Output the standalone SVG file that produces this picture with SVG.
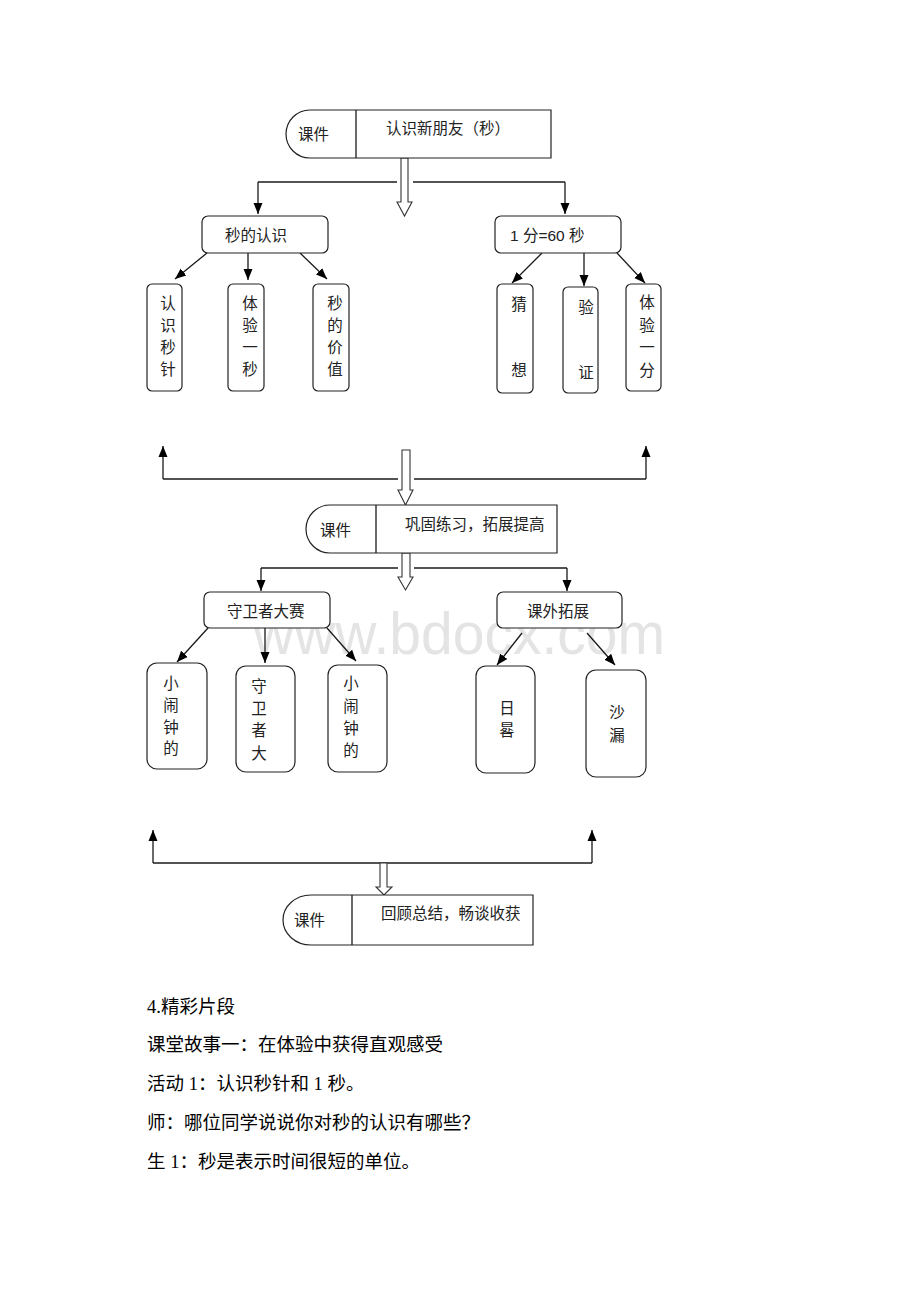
<svg xmlns="http://www.w3.org/2000/svg" width="920" height="1302" viewBox="0 0 920 1302">
<style>
.ln{fill:none;stroke:#1a1a1a;stroke-width:1.3}
.ar{fill:none;stroke:#1a1a1a;stroke-width:1.3;marker-end:url(#ah)}
.hol{fill:#fff;stroke:#333;stroke-width:1.1}
.box{fill:#fff;stroke:#222;stroke-width:1.2}
.t{font-family:"Liberation Sans","Noto Sans CJK SC",sans-serif;font-size:15.5px;fill:#222;dominant-baseline:central}
.tc{text-anchor:middle}
.b{font-family:"Liberation Serif","Noto Sans CJK SC",serif;font-size:18.5px;fill:#000;dominant-baseline:central}
.wm{font-family:"Liberation Sans","Noto Sans",sans-serif;font-size:60px;fill:#e4e4e4}
</style>
<defs>
<marker id="ah" markerUnits="userSpaceOnUse" markerWidth="12" markerHeight="12" viewBox="0 0 12 12" refX="11" refY="6" orient="auto">
<path d="M0,1.5 L11,6 L0,10.5 Z" fill="#000"/>
</marker>
</defs>
<rect width="920" height="1302" fill="#fff"/>
<text class="wm" x="253" y="654" textLength="412" lengthAdjust="spacingAndGlyphs">www.bdocx.com</text>

<g id="connectors">
<polyline class="ln" points="397,182 258,182"/>
<polyline class="ln" points="413,182 565,182"/>
<line class="ar" x1="258" y1="182" x2="258" y2="214"/>
<line class="ar" x1="565" y1="182" x2="565" y2="214"/>
<polygon class="hol" points="401,158 408,158 408,202 412,202 404.5,216 397,202 401,202"/>
<line class="ar" x1="207" y1="253" x2="175" y2="279"/>
<line class="ar" x1="248" y1="253" x2="248" y2="280"/>
<line class="ar" x1="300" y1="253" x2="327" y2="279"/>
<line class="ar" x1="542" y1="253" x2="512" y2="283"/>
<line class="ar" x1="584" y1="253" x2="584" y2="286"/>
<line class="ar" x1="617" y1="253" x2="645" y2="283"/>
<line class="ln" x1="163" y1="479" x2="398" y2="479"/>
<line class="ln" x1="414" y1="479" x2="646" y2="479"/>
<line class="ar" x1="163" y1="479" x2="163" y2="446"/>
<line class="ar" x1="646" y1="479" x2="646" y2="446"/>
<polygon class="hol" points="402,450 410,450 410,490 413,490 405.5,505 398,490 402,490"/>
<line class="ln" x1="261" y1="568" x2="398" y2="568"/>
<line class="ln" x1="414" y1="568" x2="567" y2="568"/>
<line class="ar" x1="261" y1="568" x2="261" y2="591"/>
<line class="ar" x1="567" y1="568" x2="567" y2="591"/>
<polygon class="hol" points="402,553 410,553 410,577 413,577 405.5,590 398,577 402,577"/>
<line class="ar" x1="208" y1="628" x2="177" y2="662"/>
<line class="ar" x1="265" y1="628" x2="265" y2="663"/>
<line class="ar" x1="327" y1="628" x2="356" y2="661"/>
<line class="ar" x1="522" y1="633" x2="497" y2="665"/>
<line class="ar" x1="587" y1="633" x2="615" y2="665"/>
<line class="ln" x1="153" y1="863" x2="592" y2="863"/>
<line class="ar" x1="153" y1="863" x2="153" y2="830"/>
<line class="ar" x1="592" y1="863" x2="592" y2="830"/>
<polygon class="hol" points="380,863 387,863 387,887 392,887 384,895 376,887 380,887"/>
</g>

<g id="n-top">
<path class="box" d="M310,110 H551 V158 H310 A24,24 0 0 1 310,110 Z"/>
<line class="ln" x1="356" y1="110" x2="356" y2="158"/>
<text class="t" x="298" y="134">课件</text>
<text class="t" x="386" y="128">认识新朋友（秒）</text>
</g>

<g id="n-miao">
<rect class="box" x="202" y="216" width="126" height="37" rx="6"/>
<text class="t" x="225" y="235">秒的认识</text>
</g>
<g id="n-fen">
<rect class="box" x="495" y="216" width="126" height="37" rx="6"/>
<text class="t" x="510" y="235">1 分=60 秒</text>
</g>

<g id="l1">
<rect class="box" x="147" y="284" width="35" height="107" rx="5"/>
<text class="t tc" x="168" y="303">认</text><text class="t tc" x="168" y="325">识</text><text class="t tc" x="168" y="347">秒</text><text class="t tc" x="168" y="369">针</text>
</g>
<g id="l2">
<rect class="box" x="228" y="284" width="36" height="107" rx="5"/>
<text class="t tc" x="250" y="303">体</text><text class="t tc" x="250" y="325">验</text><text class="t tc" x="250" y="347">一</text><text class="t tc" x="250" y="369">秒</text>
</g>
<g id="l3">
<rect class="box" x="313" y="284" width="36" height="107" rx="5"/>
<text class="t tc" x="335" y="303">秒</text><text class="t tc" x="335" y="325">的</text><text class="t tc" x="335" y="347">价</text><text class="t tc" x="335" y="369">值</text>
</g>
<g id="l4">
<rect class="box" x="497" y="284" width="36" height="109" rx="5"/>
<text class="t tc" x="519" y="304">猜</text><text class="t tc" x="519" y="370">想</text>
</g>
<g id="l5">
<rect class="box" x="563" y="287" width="35" height="106" rx="5"/>
<text class="t tc" x="586" y="307">验</text><text class="t tc" x="586" y="372">证</text>
</g>
<g id="l6">
<rect class="box" x="626" y="284" width="35" height="107" rx="5"/>
<text class="t tc" x="647" y="302">体</text><text class="t tc" x="647" y="325">验</text><text class="t tc" x="647" y="347">一</text><text class="t tc" x="647" y="370">分</text>
</g>

<g id="n-mid">
<path class="box" d="M330,505 H557 V553 H330 A24,24 0 0 1 330,505 Z"/>
<line class="ln" x1="376" y1="505" x2="376" y2="553"/>
<text class="t" x="320" y="530">课件</text>
<text class="t" x="405" y="524">巩固练习，拓展提高</text>
</g>

<g id="n-shouwei">
<rect class="box" x="204" y="592" width="126" height="36" rx="6"/>
<text class="t" x="227" y="611">守卫者大赛</text>
</g>
<g id="n-kewai">
<rect class="box" x="497" y="592" width="125" height="36" rx="6"/>
<text class="t" x="527" y="611">课外拓展</text>
</g>

<g id="m1">
<rect class="box" x="147" y="663" width="60" height="106" rx="10"/>
<text class="t tc" x="171" y="683">小</text><text class="t tc" x="171" y="705">闹</text><text class="t tc" x="171" y="727">钟</text><text class="t tc" x="171" y="748">的</text>
</g>
<g id="m2">
<rect class="box" x="236" y="666" width="59" height="106" rx="10"/>
<text class="t tc" x="259" y="686">守</text><text class="t tc" x="259" y="708">卫</text><text class="t tc" x="259" y="730">者</text><text class="t tc" x="259" y="753">大</text>
</g>
<g id="m3">
<rect class="box" x="328" y="665" width="59" height="107" rx="10"/>
<text class="t tc" x="351" y="683">小</text><text class="t tc" x="351" y="706">闹</text><text class="t tc" x="351" y="728">钟</text><text class="t tc" x="351" y="750">的</text>
</g>
<g id="m4">
<rect class="box" x="476" y="666" width="59" height="107" rx="10"/>
<text class="t tc" x="507" y="708">日</text><text class="t tc" x="507" y="730">晷</text>
</g>
<g id="m5">
<rect class="box" x="586" y="670" width="60" height="107" rx="10"/>
<text class="t tc" x="617" y="712">沙</text><text class="t tc" x="617" y="735">漏</text>
</g>

<g id="n-bottom">
<path class="box" d="M311,895 H533 V945 H311 A28,25 0 0 1 311,895 Z"/>
<line class="ln" x1="352" y1="895" x2="352" y2="945"/>
<text class="t" x="294" y="920">课件</text>
<text class="t" x="381" y="913">回顾总结，畅谈收获</text>
</g>

<g id="body-text">
<text class="b" x="147" y="1007">4.精彩片段</text>
<text class="b" x="147" y="1045">课堂故事一：在体验中获得直观感受</text>
<text class="b" x="147" y="1084">活动 1：认识秒针和 1 秒。</text>
<text class="b" x="147" y="1123">师：哪位同学说说你对秒的认识有哪些？</text>
<text class="b" x="147" y="1162">生 1：秒是表示时间很短的单位。</text>
</g>
</svg>
